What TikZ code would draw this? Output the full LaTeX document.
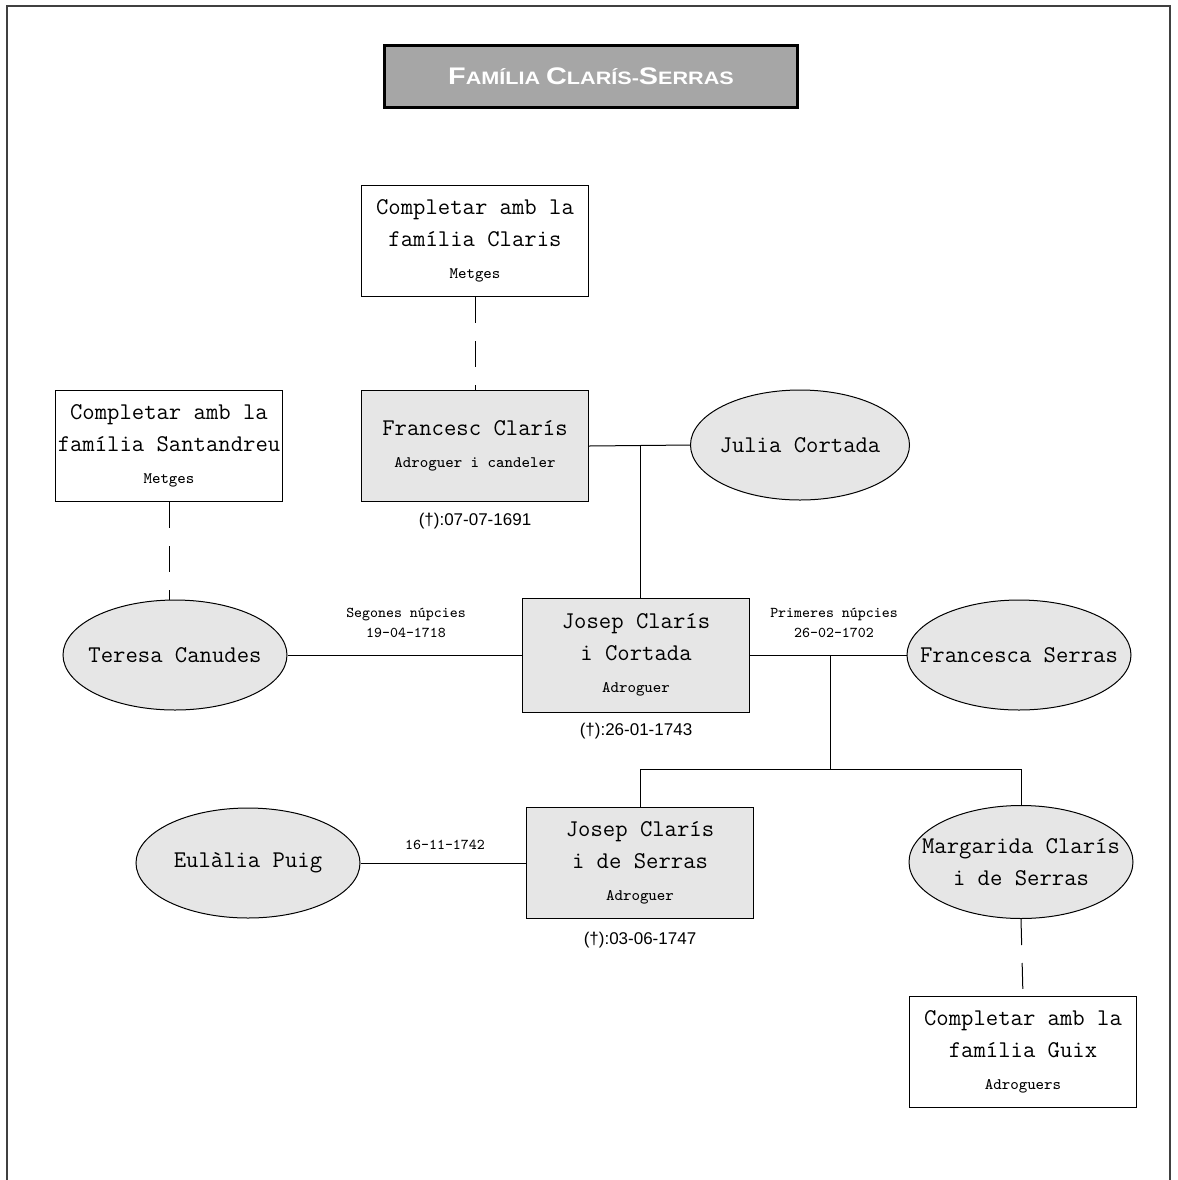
\documentclass[tikz,border=0pt]{standalone}
\usepackage{fontspec}
\usetikzlibrary{shapes.geometric}
\newfontfamily\titlefont[FakeStretch=1.2]{Liberation Sans}
\newfontfamily\datefont{Liberation Sans}
\definecolor{titlegray}{RGB}{166,166,166}
\definecolor{boxgray}{RGB}{230,230,230}
\newcommand{\namesize}{\ttfamily\fontsize{12}{16}\selectfont}
\newcommand{\jobsize}{\ttfamily\fontsize{8}{9}\selectfont}
\tikzset{
  famcol/.style={rectangle,draw,fill=white,line width=0.5pt,align=center,
    minimum width=113.5pt,minimum height=55.5pt,inner sep=1pt,font=\namesize},
  persbox/.style={famcol,fill=boxgray},
  persell/.style={ellipse,draw,fill=boxgray,line width=0.5pt,
    minimum width=112pt,minimum height=55pt,inner sep=0pt},
  persname/.style={align=center,inner sep=0pt,font=\namesize},
  deathlbl/.style={font=\datefont\fontsize{8.5}{10}\selectfont},
  weddlbl/.style={align=center,font=\ttfamily\fontsize{7.5}{10}\selectfont},
  link/.style={line width=0.5pt},
  famlink/.style={line width=0.5pt,dash pattern=on 13pt off 9pt}
}
\begin{document}
\begin{tikzpicture}[x=0.5pt,y=-0.5pt]
\useasboundingbox (0,0) rectangle (1178,1180);
\draw[darkgray,line width=0.75pt] (7,1180) -- (7,6) -- (1170,6) -- (1170,1180);

% title
\node[draw,fill=titlegray,line width=1.5pt,minimum width=206.5pt,minimum height=31pt,
  text=white,font=\titlefont\bfseries] (title) at (591,76)
  {\fontsize{12}{14}\selectfont F\fontsize{9}{11}\selectfont AMÍLIA
   \fontsize{12}{14}\selectfont C\fontsize{9}{11}\selectfont LARÍS-\fontsize{12}{14}\selectfont S\fontsize{9}{11}\selectfont ERRAS};

% families to complete
\node[famcol] (clarisfam) at (475,241) {Completar amb la\\família Claris\\{\jobsize Metges}};
\node[famcol] (santfam) at (169,446) {Completar amb la\\família Santandreu\\{\jobsize Metges}};
\node[famcol] (guixfam) at (1023,1052) {Completar amb la\\família Guix\\{\jobsize Adroguers}};

% persons
\node[persbox] (francesc) at (475,446) {Francesc Clarís\\{\jobsize Adroguer i candeler}};
\node[persbox,minimum height=57pt] (josep) at (636,655) {Josep Clarís\\ i Cortada\\{\jobsize Adroguer}};
\node[persbox] (josepjr) at (640,863) {Josep Clarís\\i de Serras\\{\jobsize Adroguer}};
\node[persell,minimum width=109.5pt] (julia) at (800,445) {};
\node[persell] (teresa) at (175,655) {};
\node[persell] (francesca) at (1019,655) {};
\node[persell] (eulalia) at (248,863) {};
\node[persell,minimum height=56.5pt] (margarida) at (1021,862) {};
\node[persname] (juliatxt) at (julia) {Julia Cortada};
\node[persname] (teresatxt) at (teresa) {Teresa Canudes};
\node[persname] (francescatxt) at (francesca) {Francesca Serras};
\node[persname] (eulaliatxt) at (eulalia) {Eulàlia Puig};
\node[persname] (margaridatxt) at (margarida) {Margarida Clarís\\i de Serras};

% death dates
\node[deathlbl] (francescd) at (475,521) {(†):07-07-1691};
\node[deathlbl] (josepd) at (636,731) {(†):26-01-1743};
\node[deathlbl] (josepjrd) at (640,940) {(†):03-06-1747};

% weddings
\node[weddlbl] (wedd2) at (406,623) {Segones núpcies\\19-04-1718};
\node[weddlbl] (wedd1) at (834,623) {Primeres núpcies\\26-02-1702};
\node[weddlbl] (wedd3) at (445,845) {16-11-1742};

% draw links
\coordinate (fj) at (640,445);
\coordinate (jf) at (830,655);
\coordinate (kids) at (830,769);
\draw[link] (francesc.east) -- (julia.west);
\draw[link] (fj) -- (fj |- josep.north);
\draw[link] (teresa.east) -- (josep.west);
\draw[link] (josep.east) -- (francesca.west);
\draw[link] (jf) -- (kids);
\draw[link] (josepjr.north -| fj) |- (kids) -| (margarida.north);
\draw[link] (eulalia.east) -- (josepjr.west);

% dashed family links
\draw[famlink] (clarisfam.south) -- (francesc.north);
\draw[famlink] (santfam.south) -- (santfam.south |- teresa.north);
\draw[famlink] (margarida.south) -- (guixfam.north);
\end{tikzpicture}
\end{document}
